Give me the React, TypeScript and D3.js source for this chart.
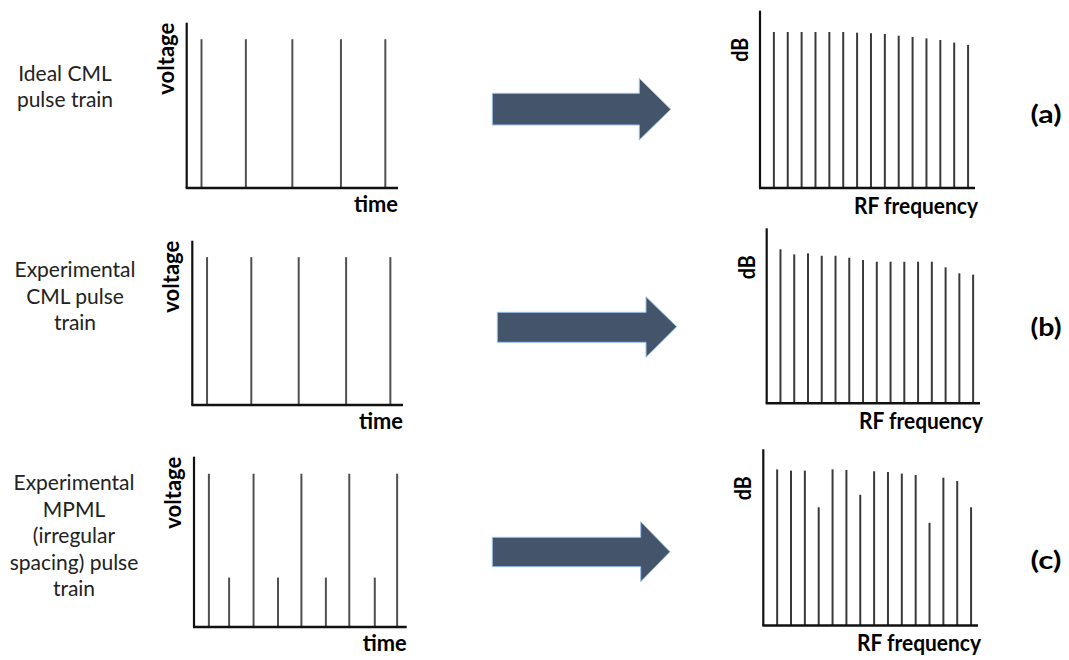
import React from "react";
import * as d3 from "d3";

// ---------- data ----------
// time-domain pulse trains (time in arbitrary units 0..10, voltage 0..100)
const idealTimes = [0.7, 2.8, 5.0, 7.3, 9.4];
const idealVoltage = [90, 90, 90, 90, 90];
const cmlTimes = [0.7, 2.8, 5.05, 7.3, 9.4];
const cmlVoltage = [90, 90, 90, 90, 90];
const mpmlTimes = [0.7, 1.65, 2.8, 3.95, 5.05, 6.2, 7.3, 8.5, 9.55];
const mpmlVoltage = [90, 29, 90, 29, 90, 29, 90, 29, 90];

// RF spectra (harmonic index, relative dB 0..100)
const harmonics = [1, 2, 3, 4, 5, 6, 7, 8, 9, 10, 11, 12, 13, 14, 15];
const idealSpectrum = [88, 88, 88, 88, 88, 88, 87.6, 87.3, 86.9, 85.9, 85.2, 84.4, 83.5, 82, 80.7];
const cmlSpectrum = [88, 85.1, 85.7, 84.3, 84.3, 83.2, 81.9, 80.9, 80.9, 80.9, 80.9, 80.9, 77.7, 74.3, 73.5];
const mpmlSpectrum = [88.6, 87.9, 87.9, 67.1, 88.6, 88.3, 74.2, 87.5, 87.1, 86.2, 85.4, 58.3, 83.9, 82, 67.1];

const rowLabels = [
  ["Ideal CML", "pulse train"],
  ["Experimental", "CML pulse", "train"],
  ["Experimental", "MPML", "(irregular", "spacing) pulse", "train"],
];
const panelTags = ["(a)", "(b)", "(c)"];

// ---------- layout ----------
const FONT = "Lato, 'Open Sans', sans-serif";
const timeLayouts = [
  { x0: 186.7, x1: 398, yTop: 22.7, yBase: 188 },
  { x0: 192.3, x1: 403, yTop: 240.7, yBase: 405 },
  { x0: 194, x1: 406.7, yTop: 456.7, yBase: 627 },
];
const specLayouts = [
  { x0: 760, x1: 975, yTop: 10.7, yBase: 188 },
  { x0: 766.7, x1: 980, yTop: 228.3, yBase: 403.3 },
  { x0: 763.3, x1: 978, yTop: 449.3, yBase: 625.5 },
];
const labelLayouts = [
  { cx: 65, y0: 80.7, dy: 26.5 },
  { cx: 75, y0: 277, dy: 26.5 },
  { cx: 74, y0: 490, dy: 26.5 },
];
const arrowLayouts = [
  { x0: 492.3, bodyTop: 93.3, bodyBot: 125, headX: 639.3, headTop: 78.3, headBot: 140, tipX: 670.7, tipY: 109.3 },
  { x0: 497.3, bodyTop: 312.3, bodyBot: 342.3, headX: 646, headTop: 296.7, headBot: 357.3, tipX: 676.7, tipY: 326.7 },
  { x0: 492.3, bodyTop: 537.3, bodyBot: 566.7, headX: 640.7, headTop: 521.7, headBot: 581.7, tipX: 670, tipY: 551.7 },
];
const tagY = [123, 335.5, 568.5];

const timeSeries = [
  { t: idealTimes, v: idealVoltage },
  { t: cmlTimes, v: cmlVoltage },
  { t: mpmlTimes, v: mpmlVoltage },
];
const spectra = [idealSpectrum, cmlSpectrum, mpmlSpectrum];

function TimePanel({ idx }: { idx: number }) {
  const L = timeLayouts[idx];
  const s = timeSeries[idx];
  const x = d3.scaleLinear().domain([0, 10]).range([L.x0, L.x1]);
  const y = d3.scaleLinear().domain([0, 100]).range([L.yBase, L.yTop]);
  return (
    <g>
      {s.t.map((t, i) => (
        <line key={i} x1={x(t)} x2={x(t)} y1={y(0) - 1} y2={y(s.v[i])} stroke="#505050" strokeWidth={2} />
      ))}
      <line x1={L.x0} x2={L.x0} y1={L.yTop} y2={L.yBase} stroke="#111" strokeWidth={2.2} />
      <line x1={L.x0 - 1} x2={L.x1} y1={L.yBase} y2={L.yBase} stroke="#111" strokeWidth={2.6} />
      <text x={L.x1} y={L.yBase + 24} textAnchor="end" fontFamily={FONT} fontWeight="bold" fontSize={22}
        textLength={44} lengthAdjust="spacingAndGlyphs" fill="#000">time</text>
      <text transform={`translate(${L.x0 - 13},${L.yTop + 36}) rotate(-90)`} textAnchor="middle" fontFamily={FONT}
        fontWeight="bold" fontSize={22} textLength={72} lengthAdjust="spacingAndGlyphs" fill="#000">voltage</text>
    </g>
  );
}

function SpecPanel({ idx }: { idx: number }) {
  const L = specLayouts[idx];
  const vals = spectra[idx];
  const x = d3.scaleLinear().domain([0, 15.5]).range([L.x0, L.x1]);
  const y = d3.scaleLinear().domain([0, 100]).range([L.yBase, L.yTop]);
  return (
    <g>
      {harmonics.map((h, i) => (
        <line key={i} x1={x(h)} x2={x(h)} y1={y(0)} y2={y(vals[i])} stroke="#3a3a3a" strokeWidth={2} />
      ))}
      <line x1={L.x0} x2={L.x0} y1={L.yTop} y2={L.yBase} stroke="#111" strokeWidth={2.2} />
      <line x1={L.x0 - 1} x2={L.x1} y1={L.yBase} y2={L.yBase} stroke="#111" strokeWidth={2.6} />
      <text x={L.x1 + 3} y={L.yBase + 25.5} textAnchor="end" fontFamily={FONT} fontWeight="bold" fontSize={22}
        textLength={124} lengthAdjust="spacingAndGlyphs" fill="#000">RF frequency</text>
      <text transform={`translate(${L.x0 - 12},${L.yTop + 39}) rotate(-90)`} textAnchor="middle" fontFamily={FONT}
        fontWeight="bold" fontSize={22} textLength={24} lengthAdjust="spacingAndGlyphs" fill="#000">dB</text>
    </g>
  );
}

function Arrow({ idx }: { idx: number }) {
  const a = arrowLayouts[idx];
  const pts: [number, number][] = [
    [a.x0, a.bodyTop], [a.headX, a.bodyTop], [a.headX, a.headTop], [a.tipX, a.tipY],
    [a.headX, a.headBot], [a.headX, a.bodyBot], [a.x0, a.bodyBot],
  ];
  const line = d3.line();
  return <path d={line(pts) + "Z"} fill="#44546a" stroke="#9cc2ea" strokeWidth={1} />;
}

export default function App() {
  return (
    <svg width={1069} height={660} style={{ position: "absolute", left: 0, top: 0, background: "#fff" }}>
      <rect x={0} y={0} width={1069} height={660} fill="#fff" />
      {rowLabels.map((lines, r) => (
        <text key={r} fontFamily={FONT} fontSize={21} fill="#222" textAnchor="middle">
          {lines.map((ln, j) => (
            <tspan key={j} x={labelLayouts[r].cx} y={labelLayouts[r].y0 + j * labelLayouts[r].dy}>{ln}</tspan>
          ))}
        </text>
      ))}
      {[0, 1, 2].map((i) => <TimePanel key={"t" + i} idx={i} />)}
      {[0, 1, 2].map((i) => <Arrow key={"a" + i} idx={i} />)}
      {[0, 1, 2].map((i) => <SpecPanel key={"s" + i} idx={i} />)}
      {panelTags.map((t, i) => (
        <text key={t} x={1046} y={tagY[i]} textAnchor="middle" fontFamily={FONT} fontWeight="bold" fontSize={25}
          textLength={31} lengthAdjust="spacingAndGlyphs" fill="#000">{t}</text>
      ))}
    </svg>
  );
}
